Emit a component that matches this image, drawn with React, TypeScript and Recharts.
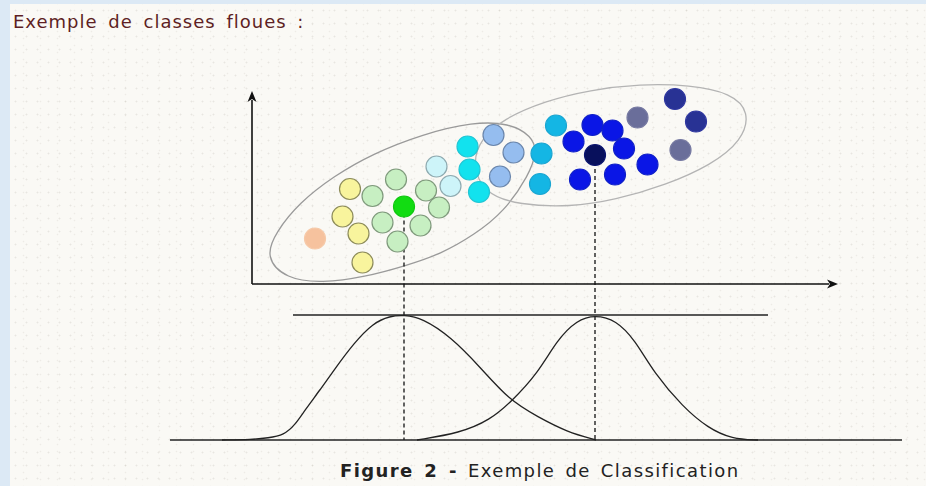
import React from "react";
import {
  ComposedChart,
  XAxis,
  YAxis,
  Scatter,
  Line,
  ReferenceLine,
} from "recharts";

// plane units: the x feature is shared by the scatter (top) and the membership curves (bottom)
const X_DOMAIN = [-4, 13.4];
const FEATURE_DOMAIN = [-3.12, 5];
const MEMBERSHIP_DOMAIN = [0, 3.248];

// samples, group = colour family
const samples = [
  { x: 1.26, y: 0.91, group: "peach" },
  { x: 1.96, y: 1.9, group: "yellow" },
  { x: 1.81, y: 1.35, group: "yellow" },
  { x: 2.13, y: 1.01, group: "yellow" },
  { x: 2.21, y: 0.43, group: "yellow" },
  { x: 2.41, y: 1.76, group: "lightgreen" },
  { x: 2.88, y: 2.09, group: "lightgreen" },
  { x: 2.61, y: 1.23, group: "lightgreen" },
  { x: 2.91, y: 0.85, group: "lightgreen" },
  { x: 3.48, y: 1.87, group: "lightgreen" },
  { x: 3.74, y: 1.53, group: "lightgreen" },
  { x: 3.37, y: 1.17, group: "lightgreen" },
  { x: 3.04, y: 1.55, group: "green" },
  { x: 3.69, y: 2.35, group: "palecyan" },
  { x: 3.97, y: 1.96, group: "palecyan" },
  { x: 4.31, y: 2.75, group: "cyan" },
  { x: 4.35, y: 2.29, group: "cyan" },
  { x: 4.54, y: 1.84, group: "cyan" },
  { x: 4.83, y: 2.98, group: "lightblue" },
  { x: 5.23, y: 2.63, group: "lightblue" },
  { x: 4.96, y: 2.15, group: "lightblue" },
  { x: 6.08, y: 3.17, group: "deepcyan" },
  { x: 5.79, y: 2.61, group: "deepcyan" },
  { x: 5.76, y: 2.0, group: "deepcyan" },
  { x: 6.43, y: 2.85, group: "blue" },
  { x: 6.81, y: 3.18, group: "blue" },
  { x: 7.21, y: 3.07, group: "blue" },
  { x: 7.44, y: 2.71, group: "blue" },
  { x: 6.56, y: 2.09, group: "blue" },
  { x: 7.26, y: 2.19, group: "blue" },
  { x: 7.91, y: 2.39, group: "blue" },
  { x: 6.86, y: 2.58, group: "navy" },
  { x: 7.71, y: 3.33, group: "slate" },
  { x: 8.57, y: 2.68, group: "slate" },
  { x: 8.46, y: 3.7, group: "darkblue" },
  { x: 8.88, y: 3.25, group: "darkblue" },
];

// class prototypes (the dashed drops)
const centres = [
  { x: 3.04, y: 1.55 },
  { x: 6.86, y: 2.58 },
];

const outlineA = [
  { x: 0.26, y: 0.54 }, { x: 0.48, y: 1.04 }, { x: 0.94, y: 1.62 },
  { x: 1.64, y: 2.16 }, { x: 2.4, y: 2.6 }, { x: 3.42, y: 3.0 },
  { x: 4.42, y: 3.24 }, { x: 5.14, y: 3.22 }, { x: 5.6, y: 2.96 },
  { x: 5.7, y: 2.64 }, { x: 5.54, y: 2.18 }, { x: 5.04, y: 1.44 },
  { x: 4.44, y: 0.98 }, { x: 3.78, y: 0.6 }, { x: 3.06, y: 0.36 },
  { x: 2.26, y: 0.14 }, { x: 1.4, y: 0.02 }, { x: 0.68, y: 0.1 },
];

const outlineB = [
  { x: 4.4, y: 2.42 }, { x: 4.58, y: 2.9 }, { x: 5.02, y: 3.3 },
  { x: 5.86, y: 3.66 }, { x: 6.76, y: 3.88 }, { x: 7.76, y: 4.0 },
  { x: 8.76, y: 3.98 }, { x: 9.58, y: 3.82 }, { x: 9.96, y: 3.44 },
  { x: 9.8, y: 2.86 }, { x: 9.18, y: 2.38 }, { x: 8.28, y: 1.98 },
  { x: 7.26, y: 1.68 }, { x: 6.36, y: 1.54 }, { x: 5.36, y: 1.58 },
  { x: 4.64, y: 1.8 },
];

const membershipA = [
  { x: -0.6, m: 0 }, { x: 0.0, m: 0.004 }, { x: 0.32, m: 0.016 },
  { x: 0.64, m: 0.04 }, { x: 0.86, m: 0.12 }, { x: 1.06, m: 0.24 },
  { x: 1.36, m: 0.4 }, { x: 1.64, m: 0.56 }, { x: 2.04, m: 0.776 },
  { x: 2.42, m: 0.936 }, { x: 2.76, m: 0.992 }, { x: 3.04, m: 1 },
  { x: 3.4, m: 0.976 }, { x: 3.98, m: 0.824 }, { x: 4.56, m: 0.584 },
  { x: 5.14, m: 0.32 }, { x: 5.72, m: 0.184 }, { x: 6.3, m: 0.064 },
  { x: 6.88, m: 0 },
];

const membershipB = [
  { x: 3.3, m: 0 }, { x: 4.16, m: 0.056 }, { x: 4.76, m: 0.16 },
  { x: 5.18, m: 0.304 }, { x: 5.72, m: 0.536 }, { x: 6.1, m: 0.8 },
  { x: 6.5, m: 0.96 }, { x: 6.86, m: 1 }, { x: 7.28, m: 0.96 },
  { x: 7.66, m: 0.8 }, { x: 8.04, m: 0.536 }, { x: 8.62, m: 0.264 },
  { x: 9.12, m: 0.096 }, { x: 9.6, m: 0.008 }, { x: 10.12, m: 0 },
];

const xAxisEnd = 11.72;
const yAxisEnd = 3.86;
const topLine = [0.82, 10.32];
const baseLine = [-1.64, 13.0];

const GROUP_STYLE: Record<string, { fill: string; stroke: string }> = {
  peach: { fill: "#f6c29e", stroke: "#f6c9a8" },
  yellow: { fill: "#f8f49d", stroke: "#8d8c5a" },
  lightgreen: { fill: "#c7efc2", stroke: "#7f9a7c" },
  green: { fill: "#12dc12", stroke: "#10c810" },
  palecyan: { fill: "#cdf4f9", stroke: "#8eaab0" },
  cyan: { fill: "#12e2ee", stroke: "#22c6d4" },
  lightblue: { fill: "#95bdef", stroke: "#6a86ac" },
  deepcyan: { fill: "#14b6e4", stroke: "#1aa6d2" },
  blue: { fill: "#0a16e6", stroke: "#1020c8" },
  navy: { fill: "#08105c", stroke: "#0c1670" },
  slate: { fill: "#6a6e9a", stroke: "#777aa2" },
  darkblue: { fill: "#283294", stroke: "#3038a0" },
};

const renderSample = (props: any) => {
  const s = GROUP_STYLE[props.payload.group];
  return (
    <circle cx={props.cx} cy={props.cy} r={10.5} fill={s.fill} stroke={s.stroke} strokeWidth={1.2} />
  );
};

const ArrowLine = (props: any) => {
  const { x1, y1, x2, y2 } = props;
  const len = Math.hypot(x2 - x1, y2 - y1) || 1;
  const ux = (x2 - x1) / len;
  const uy = (y2 - y1) / len;
  const head = 11;
  const half = 4.5;
  const bx = x2 - ux * head;
  const by = y2 - uy * head;
  return (
    <g>
      <line x1={x1} y1={y1} x2={bx + ux * 2} y2={by + uy * 2} stroke="#111" strokeWidth={1.6} />
      <polygon
        points={`${x2},${y2} ${bx - uy * half},${by + ux * half} ${bx + ux * 3},${by + uy * 3} ${bx + uy * half},${by - ux * half}`}
        fill="#111"
      />
    </g>
  );
};

export default function App() {
  return (
    <div
      style={{
        position: "relative",
        width: 926,
        height: 486,
        background: "#dce9f5",
        overflow: "hidden",
      }}
    >
      <style>{"body{margin:0}"}</style>
      <div
        style={{
          position: "absolute",
          left: 10,
          top: 4,
          right: 0,
          bottom: 0,
          backgroundColor: "#faf9f5",
          backgroundImage:
            "radial-gradient(circle, rgba(150,140,125,0.18) 0.7px, transparent 1.2px), radial-gradient(circle, rgba(160,150,140,0.14) 0.6px, transparent 1.1px)",
          backgroundSize: "11px 13px, 17px 7px",
          backgroundPosition: "0 0, 5px 3px",
        }}
      />
      <div
        style={{
          position: "absolute",
          left: 13,
          top: 13,
          fontFamily: "'DejaVu Sans', sans-serif",
          fontSize: 18,
          lineHeight: "18px",
          letterSpacing: 1,
          wordSpacing: 4,
          color: "#5e1f24",
          whiteSpace: "nowrap",
        }}
      >
        Exemple de classes floues :
      </div>
      <div style={{ position: "absolute", left: 0, top: 0 }}>
        <ComposedChart width={926} height={486} margin={{ top: 34, right: 4, bottom: 46, left: 52 }}>
          <XAxis type="number" dataKey="x" domain={X_DOMAIN} hide />
          <YAxis yAxisId="f" type="number" dataKey="y" domain={FEATURE_DOMAIN} hide />
          <YAxis yAxisId="m" type="number" domain={MEMBERSHIP_DOMAIN} hide />

          <Line
            yAxisId="f"
            data={outlineA}
            dataKey="y"
            type="basisClosed"
            stroke="#9a9a9a"
            strokeWidth={1.3}
            dot={false}
            isAnimationActive={false}
          />
          <Line
            yAxisId="f"
            data={outlineB}
            dataKey="y"
            type="basisClosed"
            stroke="#b4b4b4"
            strokeWidth={1.3}
            dot={false}
            isAnimationActive={false}
          />

          {centres.map((c, i) => (
            <Line
              key={`drop-${i}`}
              yAxisId="f"
              data={[c, { x: c.x, y: FEATURE_DOMAIN[0] }]}
              dataKey="y"
              type="linear"
              stroke="#111"
              strokeWidth={1.3}
              strokeDasharray="4 3"
              dot={false}
              isAnimationActive={false}
            />
          ))}

          <ReferenceLine
            yAxisId="f"
            segment={[{ x: 0, y: 0 }, { x: xAxisEnd, y: 0 }]}
            shape={ArrowLine}
          />
          <ReferenceLine
            yAxisId="f"
            segment={[{ x: 0, y: 0 }, { x: 0, y: yAxisEnd }]}
            shape={ArrowLine}
          />

          <ReferenceLine
            yAxisId="m"
            segment={[{ x: topLine[0], y: 1 }, { x: topLine[1], y: 1 }]}
            stroke="#222"
            strokeWidth={1.3}
          />
          <ReferenceLine
            yAxisId="m"
            segment={[{ x: baseLine[0], y: 0 }, { x: baseLine[1], y: 0 }]}
            stroke="#222"
            strokeWidth={1.3}
          />

          <Line
            yAxisId="m"
            data={membershipA}
            dataKey="m"
            type="basis"
            stroke="#222"
            strokeWidth={1.3}
            dot={false}
            isAnimationActive={false}
          />
          <Line
            yAxisId="m"
            data={membershipB}
            dataKey="m"
            type="basis"
            stroke="#222"
            strokeWidth={1.3}
            dot={false}
            isAnimationActive={false}
          />

          <Scatter yAxisId="f" data={samples} dataKey="y" shape={renderSample} isAnimationActive={false} />
        </ComposedChart>
      </div>
      <div
        style={{
          position: "absolute",
          left: 340,
          top: 462,
          fontFamily: "'DejaVu Sans', sans-serif",
          fontSize: 18,
          lineHeight: "18px",
          letterSpacing: 1.4,
          wordSpacing: 3,
          color: "#222",
          whiteSpace: "nowrap",
        }}
      >
        <span style={{ fontWeight: "bold" }}>Figure 2 -</span> Exemple de Classification
      </div>
    </div>
  );
}
